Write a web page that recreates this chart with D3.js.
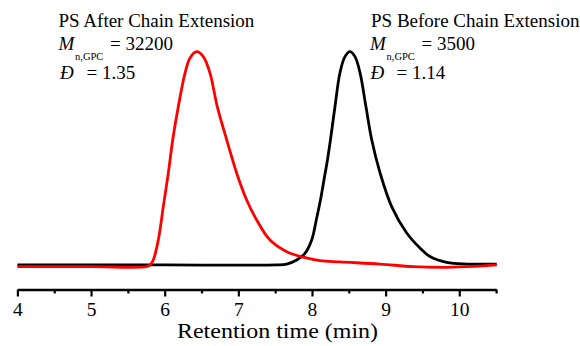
<!DOCTYPE html>
<html>
<head>
<meta charset="utf-8">
<script src="https://cdn.jsdelivr.net/npm/d3@7/dist/d3.min.js"></script>
<style>
  html, body { margin: 0; padding: 0; background: #fff; }
  svg { display: block; }
</style>
</head>
<body>
<script>
// ---- Data ----
const redTime = [4.0, 5.0, 5.75, 5.80, 5.845, 5.913, 5.981, 6.049, 6.109, 6.185, 6.276, 6.344, 6.434,
  6.524, 6.615, 6.714, 6.842, 6.978, 7.113, 7.249, 7.430, 7.657, 7.882, 8.109, 8.380, 8.923, 9.375, 9.829, 10.2, 10.508];
const redSignal = [-0.003, -0.003, -0.003, 0.004, 0.028, 0.121, 0.277, 0.433, 0.589, 0.744, 0.900, 0.971, 1.0,
  0.977, 0.900, 0.744, 0.589, 0.433, 0.308, 0.215, 0.121, 0.067, 0.041, 0.025, 0.019, 0.009, -0.003, -0.006, -0.002, 0.005];

const blackTime = [4.0, 6.0, 7.52, 7.657, 7.792, 7.905, 7.996, 8.064, 8.115, 8.163, 8.210, 8.251, 8.312, 8.380, 8.448, 8.516,
  8.584, 8.652, 8.733, 8.811, 8.924, 9.082, 9.286, 9.466, 9.602, 9.829, 10.10, 10.508];
const blackSignal = [0.005, 0.005, 0.005, 0.009, 0.028, 0.059, 0.121, 0.224, 0.308, 0.402, 0.495, 0.589, 0.743, 0.902, 0.977, 1.0,
  0.977, 0.902, 0.743, 0.589, 0.435, 0.277, 0.154, 0.084, 0.044, 0.017, 0.009, 0.009];

const majorTicks = [4, 5, 6, 7, 8, 9, 10];
const minorTicks = [4.5, 5.5, 6.5, 7.5, 8.5, 9.5, 10.5];
const xTitle = "Retention time (min)";

const seriesNames = ["PS After Chain Extension", "PS Before Chain Extension"];
const mnValues = ["32200", "3500"];
const dispersity = ["1.35", "1.14"];

// ---- Layout ----
const FONT = '"Liberation Serif", "Times New Roman", Times, serif';
const W = 580, H = 346;
const svg = d3.select("body").append("svg").attr("width", W).attr("height", H);

const x = d3.scaleLinear().domain([4, 10.5]).range([17.4, 496.1]);
const y = d3.scaleLinear().domain([0, 1]).range([266, 51.7]);
const axisY = 289.5;

const gen = d3.line().x(d => x(d[0])).y(d => y(d[1])).curve(d3.curveCatmullRom.alpha(0.5));

const blackData = blackTime.map((t, i) => [t, blackSignal[i]]);
const redData = redTime.map((t, i) => [t, redSignal[i]]);

svg.append("path").datum(blackData).attr("d", gen)
  .attr("fill", "none").attr("stroke", "#000").attr("stroke-width", 2.8).attr("stroke-linejoin", "round");
svg.append("path").datum(redData).attr("d", gen)
  .attr("fill", "none").attr("stroke", "#ff0000").attr("stroke-width", 2.8).attr("stroke-linejoin", "round");

// ---- Axis ----
const axisG = svg.append("g").attr("transform", `translate(0,${axisY})`);
const ax = d3.axisBottom(x).tickValues(majorTicks).tickSize(7).tickSizeOuter(0).tickPadding(6)
  .tickFormat(d3.format("d"));
axisG.call(ax);
axisG.attr("font-family", null).attr("font-size", null);
axisG.select(".domain").attr("stroke", "#000").attr("stroke-width", 2.4);
axisG.selectAll(".tick line").attr("stroke", "#000").attr("stroke-width", 2.2);
axisG.selectAll(".tick text").attr("font-size", 19.5).attr("font-family", FONT).attr("fill", "#000");

const axMinor = d3.axisBottom(x).tickValues(minorTicks).tickSize(4).tickSizeOuter(0).tickFormat("");
const minorG = svg.append("g").attr("transform", `translate(0,${axisY})`).call(axMinor);
minorG.select(".domain").remove();
minorG.selectAll(".tick line").attr("stroke", "#000").attr("stroke-width", 2.2);

svg.append("text").attr("x", 177).attr("y", 337.5)
  .attr("font-family", FONT).attr("font-size", 21.5).attr("fill", "#000")
  .attr("textLength", 201).attr("lengthAdjust", "spacingAndGlyphs").text(xTitle);

// ---- Annotations ----
const ann = [
  { x: 58.5, mx: 58.5, subx: 75, eqx: 110, dx: 60, deqx: 86.5 },
  { x: 371, mx: 370, subx: 386.5, eqx: 421.5, dx: 370.5, deqx: 396.5 }
];
function t(xp, yp, size, str, italic) {
  return svg.append("text").attr("x", xp).attr("y", yp).attr("font-family", FONT)
    .attr("font-size", size).attr("font-style", italic ? "italic" : "normal").attr("fill", "#000").text(str);
}
ann.forEach((a, i) => {
  t(a.x, 27, 19, seriesNames[i]);
  t(a.mx, 50, 19, "M", true);
  t(a.subx, 59.5, 10.5, "n,GPC");
  t(a.eqx, 50, 19, "= " + mnValues[i]);
  t(a.dx, 79, 19, "Đ", true);
  t(a.deqx, 79, 19, "= " + dispersity[i]);
});
</script>
</body>
</html>
